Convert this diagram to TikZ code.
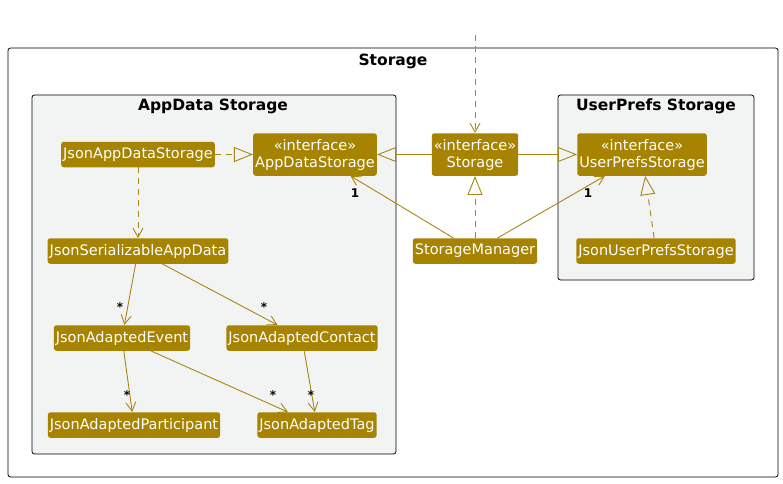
\documentclass[tikz,border=0pt]{standalone}
\usepackage{fontspec}
\setmainfont{DejaVu Sans}
\usetikzlibrary{arrows.meta}
\definecolor{olive}{RGB}{166,131,0}
\definecolor{edgecol}{RGB}{168,134,20}
\definecolor{pkgfill}{RGB}{242,244,243}
\tikzset{
  cls/.style={fill=olive, text=white, rounded corners=2.5pt, inner xsep=2pt,
    inner ysep=0pt, minimum height=25.5pt, align=center,
    font=\fontsize{14.5}{17}\selectfont},
  iface/.style={cls, minimum height=42.5pt},
  frame/.style={draw=black, line width=0.8pt, rounded corners=2.5pt},
  pkg/.style={frame, fill=pkgfill},
  title/.style={font=\fontsize{15.5}{18}\selectfont\bfseries},
  mult/.style={font=\fontsize{12}{13}\selectfont\bfseries, inner sep=0pt},
  assoc/.style={draw=edgecol, line width=0.9pt, -{Straight Barb[length=9pt,width=10pt]}},
  dep/.style={assoc, dash pattern=on 6pt off 5pt},
  gen/.style={draw=edgecol, line width=0.9pt, -{Triangle[open, length=19pt, width=15pt]}},
  real/.style={gen, dash pattern=on 6pt off 5pt}
}
\begin{document}
\begin{tikzpicture}[x=1pt,y=-1pt]
  \useasboundingbox (0,0) rectangle (783,483);
  % packages
  \draw[frame] (8,48) rectangle (778,477);
  \node[title] (tstorage) at (393,61) {Storage};
  \draw[pkg] (32,95) rectangle (396,454);
  \node[title] (tappdata) at (213,106) {AppData Storage};
  \draw[pkg] (558,95) rectangle (754,280);
  \node[title] (tprefs) at (656,106) {UserPrefs Storage};

  % classes
  \node[cls] (jads) at (138,154.5) {JsonAppDataStorage};
  \node[iface] (ads) at (315,154.5) {«interface»\\AppDataStorage};
  \node[iface] (st) at (475,154.5) {«interface»\\Storage};
  \node[iface] (ups) at (642,154.5) {«interface»\\UserPrefsStorage};
  \node[cls] (sm) at (475,251) {StorageManager};
  \node[cls] (jups) at (656,251) {JsonUserPrefsStorage};
  \node[cls] (jsad) at (138,251) {JsonSerializableAppData};
  \node[cls] (jae) at (122,338) {JsonAdaptedEvent};
  \node[cls] (jac) at (302,338) {JsonAdaptedContact};
  \node[cls] (jap) at (134,425) {JsonAdaptedParticipant};
  \node[cls] (jat) at (317,425) {JsonAdaptedTag};

  % connectors
  \coordinate (caller) at (475,35);
  \draw[dep] (caller) -- (st);
  \draw[real] (jads) -- (ads);
  \draw[gen] (st) -- (ads);
  \draw[gen] (st) -- (ups);
  \draw[real] (sm) -- (st);
  \draw[real] (jups) -- (ups);
  \draw[assoc] (sm) -- (ads);
  \draw[assoc] (sm) -- (ups);
  \draw[dep] (jads) -- (jsad);
  \draw[assoc] (jsad) -- (jae);
  \draw[assoc] (jsad) -- (jac);
  \draw[assoc] (jae) -- (jap);
  \draw[assoc] (jae) -- (jat);
  \draw[assoc] (jac) -- (jat);

  % multiplicities
  \node[mult] (m1) at (355,193) {1};
  \node[mult] (m2) at (588,193) {1};
  \node[mult] (m3) at (120,307) {*};
  \node[mult] (m4) at (264,307) {*};
  \node[mult] (m5) at (127,395) {*};
  \node[mult] (m6) at (273,395) {*};
  \node[mult] (m7) at (311,395) {*};
\end{tikzpicture}
\end{document}
